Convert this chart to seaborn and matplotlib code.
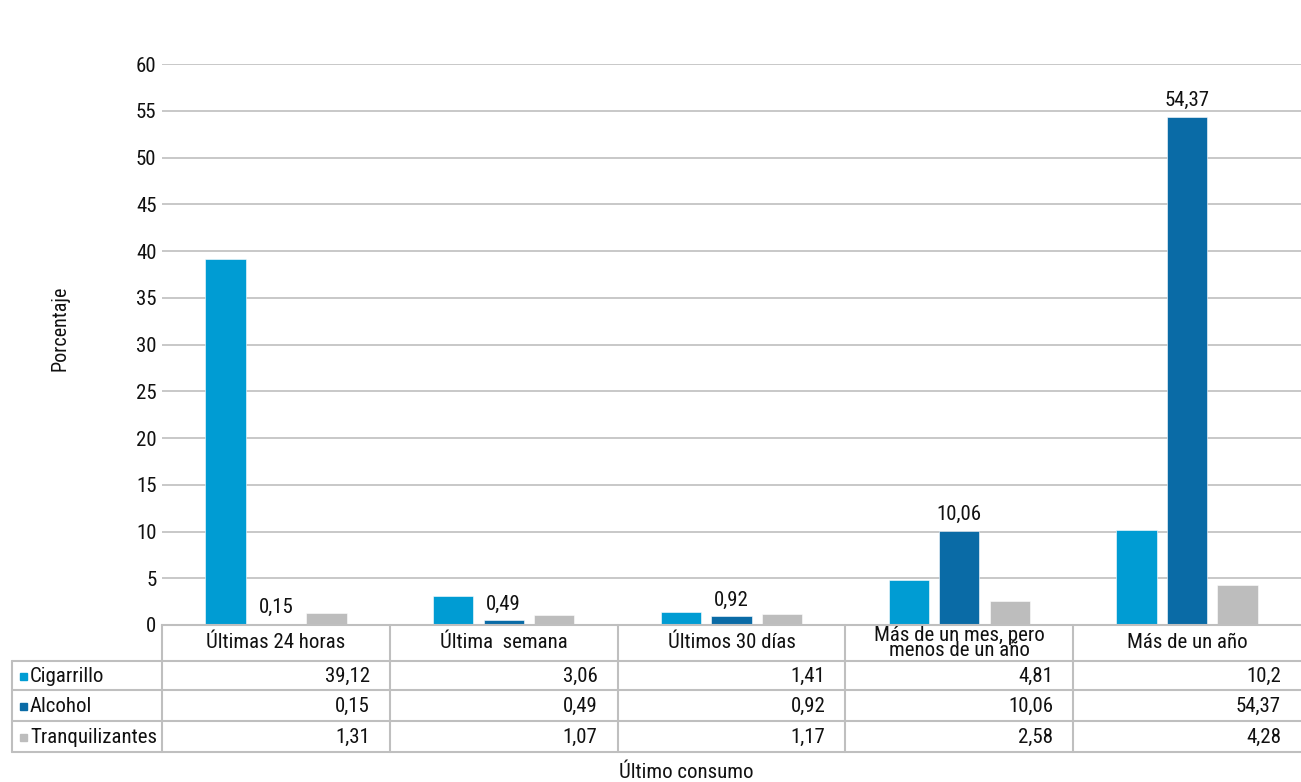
import matplotlib
matplotlib.use("Agg")
import matplotlib.pyplot as plt
import matplotlib.transforms as mtransforms
from matplotlib.lines import Line2D
from matplotlib.patches import Rectangle
import seaborn as sns
import pandas as pd

# Data
categories = ["Últimas 24 horas", "Última  semana", "Últimos 30 días",
              "Más de un mes, pero\nmenos de un año", "Más de un año"]
series_names = ["Cigarrillo", "Alcohol", "Tranquilizantes"]
cigarrillo = [39.12, 3.06, 1.41, 4.81, 10.2]
alcohol = [0.15, 0.49, 0.92, 10.06, 54.37]
tranquilizantes = [1.31, 1.07, 1.17, 2.58, 4.28]
y_ticks = [0, 5, 10, 15, 20, 25, 30, 35, 40, 45, 50, 55, 60]

colors = ["#009CD3", "#0A6BA6", "#BDBDBD"]
grid_color = "#BFBFBF"
text_color = "#111111"

sns.set_theme(style="white")
plt.rcParams["font.family"] = ["Roboto Condensed", "Liberation Sans", "DejaVu Sans"]
FS = 15

W, H = 1301, 782
fig = plt.figure(figsize=(W / 100, H / 100), dpi=100)
ax = fig.add_axes([162 / W, 1 - 625 / H, (1301 - 162) / W, (625 - 64) / H])

values = [cigarrillo, alcohol, tranquilizantes]
df = pd.DataFrame({
    "cat": [c for _ in series_names for c in categories],
    "serie": [s for s in series_names for _ in categories],
    "val": [v for vals in values for v in vals],
})

sns.barplot(data=df, x="cat", y="val", hue="serie", order=categories,
            hue_order=series_names, palette=colors, width=0.665, gap=0.2,
            saturation=1, edgecolor="white", linewidth=0.4, ax=ax, legend=False)

ax.set_xlim(-0.5, len(categories) - 0.5)
ax.set_ylim(0, 60)
ax.set_yticks(y_ticks)
ax.set_yticklabels([str(t) for t in y_ticks], fontsize=FS, color=text_color)
ax.tick_params(axis="y", length=0, pad=4)
ax.set_xticks([])
ax.set_xlabel("")
ax.set_ylabel("")
ax.yaxis.grid(True, color=grid_color, linewidth=1.2)
ax.set_axisbelow(True)
for side in ["left", "right", "top"]:
    ax.spines[side].set_visible(False)
ax.spines["bottom"].set_color(grid_color)
ax.spines["bottom"].set_linewidth(1.5)

# Value labels on the Alcohol bars
alc_container = ax.containers[1]
for bar, v in zip(alc_container, alcohol):
    ax.annotate(f"{v:g}".replace(".", ","),
                (bar.get_x() + bar.get_width() / 2, bar.get_height()),
                xytext=(0, 5), textcoords="offset points",
                ha="center", va="bottom", fontsize=FS, color=text_color)

# Data table below the axes
tr = mtransforms.blended_transform_factory(ax.transData, fig.transFigure)
fy = lambda px: 1 - px / H
fx = lambda px: px / W

row_lines = [661, 690, 721, 752]
top = 625
n = len(categories)
line_kw = dict(color=grid_color, linewidth=1.5, clip_on=False)

for yp in row_lines:
    fig.add_artist(Line2D([fx(12), 1.0], [fy(yp), fy(yp)], **line_kw))
fig.add_artist(Line2D([fx(12), fx(12)], [fy(row_lines[0]), fy(row_lines[-1])], **line_kw))
for xb in [-0.5 + i for i in range(n)]:
    ax.add_line(Line2D([xb, xb], [fy(top), fy(row_lines[-1])], transform=tr, **line_kw))

# Header row with the categories
for i, c in enumerate(categories):
    ax.text(i, fy((top + row_lines[0]) / 2), c, transform=tr, ha="center",
            va="center", fontsize=FS, linespacing=0.75, color=text_color)

# Series rows
for r, (name, vals, col) in enumerate(zip(series_names, values, colors)):
    yc = fy((row_lines[r] + row_lines[r + 1]) / 2 + 1)
    fig.add_artist(Rectangle((fx(20), yc - 3.5 / H), 7 / W, 7 / H,
                             transform=fig.transFigure, color=col))
    fig.text(fx(30), yc, name, ha="left", va="center", fontsize=FS, color=text_color)
    for i, v in enumerate(vals):
        ax.text(i + 0.5 - 0.088, yc, f"{v:g}".replace(".", ","), transform=tr,
                ha="right", va="center", fontsize=FS, color=text_color)

fig.text(fx(60), fy(328), "Porcentaje", rotation=90, ha="center", va="center",
         fontsize=14.5, color=text_color)
fig.text(fx(686), fy(772), "Último consumo", ha="center", va="center",
         fontsize=FS, color=text_color)

fig.savefig("out.png", dpi=100, facecolor="white")
